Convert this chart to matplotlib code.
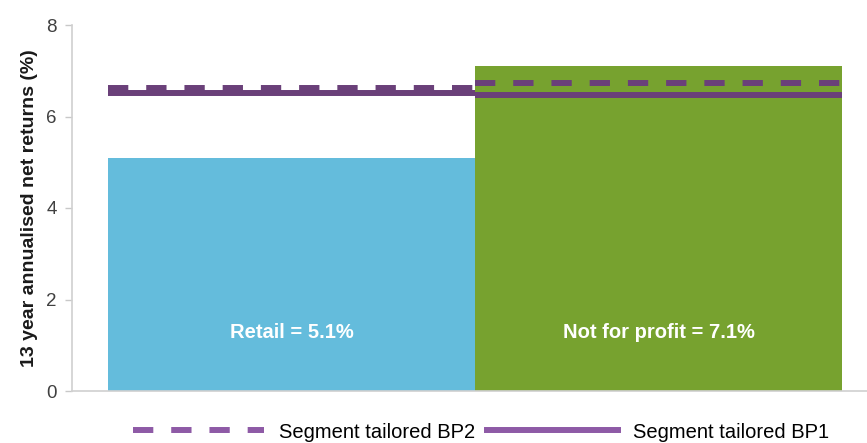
import matplotlib.pyplot as plt
from matplotlib.lines import Line2D

plt.rcParams["font.family"] = ["Liberation Sans", "DejaVu Sans"]

segments = ["Retail", "Not for profit"]
net_returns = [5.1, 7.1]
bp2_returns = [6.62, 6.73]
bp1_returns = [6.52, 6.46]
yticks = [0, 2, 4, 6, 8]

BAR_COLORS = ["#64bcdc", "#77a22f"]
LINE_COLOR = "#6a4079"
LEGEND_COLOR = "#8e5aa6"
LW = 4.3
DASHES = (3.4, 3.0)


def main():
    fig = plt.figure(figsize=(8.67, 4.43), dpi=100)
    ax = fig.add_axes([72 / 867, 52 / 443, 795 / 867, 366 / 443])

    xs = list(range(len(segments)))
    ax.bar(xs, net_returns, width=1.0, color=BAR_COLORS, zorder=1)

    for x, name, val in zip(xs, segments, net_returns):
        ax.text(x, 1.27, f"{name} = {val:.1f}%", color="white", fontsize=14.5,
                fontweight="bold", ha="center", va="center", zorder=4)

    for x, b1, b2 in zip(xs, bp1_returns, bp2_returns):
        ax.hlines(b1, x - 0.5, x + 0.5, color=LINE_COLOR, lw=LW, zorder=2)
        dashed = ax.hlines(b2, x - 0.5, x + 0.5, color=LINE_COLOR, lw=LW, zorder=3)
        dashed.set_dashes([(0, DASHES)])
        dashed.set_capstyle("butt")

    ax.set_xlim(-0.598, 1.568)
    ax.set_ylim(0, 8)
    ax.set_yticks(yticks)
    ax.set_xticks([])
    ax.tick_params(axis="y", length=5, width=1, color="#c8c8c8", pad=6,
                   labelsize=13.5, labelcolor="#404040")
    for side in ("top", "right"):
        ax.spines[side].set_visible(False)
    for side in ("left", "bottom"):
        ax.spines[side].set_color("#d0d0d0")
        ax.spines[side].set_linewidth(1.2)

    ax.set_ylabel("13 year annualised net returns (%)", fontsize=14,
                  fontweight="bold", color="#1a1a1a", labelpad=6)

    handles = [
        Line2D([], [], color=LEGEND_COLOR, lw=LW, dashes=DASHES),
        Line2D([], [], color=LEGEND_COLOR, lw=LW),
    ]
    fig.legend(handles, ["Segment tailored BP2", "Segment tailored BP1"],
               loc="center", bbox_to_anchor=(481 / 867, 11 / 443), ncol=2,
               frameon=False, fontsize=14.5, handlelength=6.5, handletextpad=0.75,
               columnspacing=0.6, borderpad=0)

    fig.savefig("out.png", dpi=100)


if __name__ == "__main__":
    main()
